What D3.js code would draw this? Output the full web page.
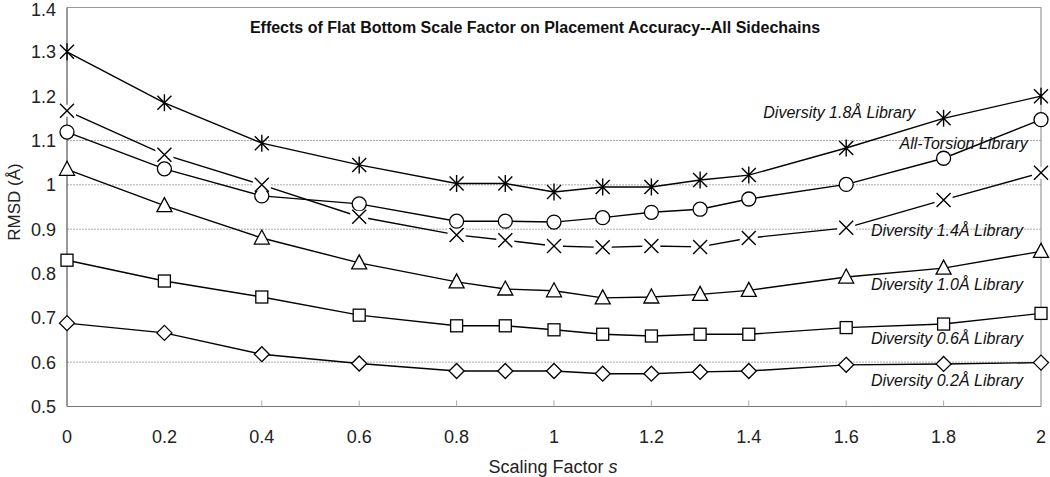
<!DOCTYPE html>
<html>
<head>
<meta charset="utf-8">
<script src="https://cdn.jsdelivr.net/npm/d3@7"></script>
<style>
  body { margin: 0; background: #fff; }
  svg text { font-family: "Liberation Sans", Arial, sans-serif; }
</style>
</head>
<body>
<div id="chart"></div>
<script>
// scaling factors along x
var scaleFactors = [0, 0.2, 0.4, 0.6, 0.8, 0.9, 1, 1.1, 1.2, 1.3, 1.4, 1.6, 1.8, 2];

// RMSD values per library
var div18 = [1.30, 1.185, 1.094, 1.045, 1.003, 1.003, 0.984, 0.995, 0.995, 1.011, 1.022, 1.083, 1.15, 1.20];
var allTorsion = [1.119, 1.036, 0.975, 0.957, 0.918, 0.918, 0.916, 0.926, 0.938, 0.945, 0.968, 1.001, 1.06, 1.147];
var div14 = [1.167, 1.068, 1.0, 0.928, 0.887, 0.875, 0.862, 0.859, 0.862, 0.86, 0.88, 0.903, 0.966, 1.027];
var div10 = [1.035, 0.953, 0.88, 0.824, 0.781, 0.765, 0.761, 0.745, 0.747, 0.753, 0.762, 0.792, 0.812, 0.85];
var div06 = [0.83, 0.783, 0.747, 0.706, 0.682, 0.682, 0.673, 0.663, 0.659, 0.663, 0.663, 0.678, 0.686, 0.71];
var div02 = [0.688, 0.666, 0.618, 0.597, 0.58, 0.58, 0.58, 0.574, 0.574, 0.578, 0.58, 0.594, 0.596, 0.599];

var seriesNames = ["Diversity 1.8Å Library", "All-Torsion Library", "Diversity 1.4Å Library",
                   "Diversity 1.0Å Library", "Diversity 0.6Å Library", "Diversity 0.2Å Library"];
var seriesValues = [div18, allTorsion, div14, div10, div06, div02];
var seriesMarkers = ["asterisk", "circle", "cross", "triangle", "square", "diamond"];

// where each label sits: [x value it ends at, y value of its centre]
var labelEnd = [1.742, 1.973, 1.963, 1.963, 1.963, 1.963];
var labelY = [1.164, 1.094, 0.898, 0.776, 0.654, 0.56];

var xTicks = [0, 0.2, 0.4, 0.6, 0.8, 1, 1.2, 1.4, 1.6, 1.8, 2];
var xTickMarks = [0.4, 0.6, 0.8, 1, 1.2, 1.4, 1.6, 1.8];
var yTicks = [0.5, 0.6, 0.7, 0.8, 0.9, 1, 1.1, 1.2, 1.3, 1.4];
var gridValues = [0.6, 0.9, 1.0, 1.1];

var W = 1050, H = 477,
    margin = {left: 67, right: 9, top: 7.5, bottom: 70.5};

var svg = d3.select("#chart").append("svg")
    .attr("width", W)
    .attr("height", H);

var x = d3.scaleLinear().domain([0, 2]).range([margin.left, W - margin.right]),
    y = d3.scaleLinear().domain([0.5, 1.4]).range([H - margin.bottom, margin.top]);

// grid lines
svg.append("g").selectAll("line")
    .data(gridValues)
  .enter().append("line")
    .attr("x1", x(0)).attr("x2", x(2))
    .attr("y1", function(d){ return y(d); })
    .attr("y2", function(d){ return y(d); })
    .attr("stroke", "#aaa")
    .attr("stroke-width", 1)
    .attr("stroke-dasharray", "2,1");

// plot frame: top and right
svg.append("path")
    .attr("d", "M" + x(0) + "," + y(1.4) + "H" + x(2) + "V" + y(0.5))
    .attr("fill", "none")
    .attr("stroke", "#999")
    .attr("stroke-width", 1.2);

// bottom axis
var xAxis = svg.append("g")
    .attr("transform", "translate(0," + y(0.5) + ")");
xAxis.append("line")
    .attr("x1", x(0)).attr("x2", x(2))
    .attr("stroke", "#777").attr("stroke-width", 1.2);
xAxis.selectAll(".tickmark")
    .data(xTickMarks)
  .enter().append("line")
    .attr("class", "tickmark")
    .attr("x1", function(d){ return x(d); })
    .attr("x2", function(d){ return x(d); })
    .attr("y1", 0).attr("y2", -6)
    .attr("stroke", "#aaa");
xAxis.selectAll("text")
    .data(xTicks)
  .enter().append("text")
    .attr("x", function(d){ return x(d); })
    .attr("y", 36)
    .attr("text-anchor", "middle")
    .attr("font-size", 18)
    .attr("fill", "#222")
    .text(function(d){ return d; });

// left axis
var yAxis = svg.append("g");
yAxis.append("line")
    .attr("x1", x(0)).attr("x2", x(0))
    .attr("y1", y(0.5)).attr("y2", y(1.4))
    .attr("stroke", "#555").attr("stroke-width", 1.2);
yAxis.selectAll("text")
    .data(yTicks)
  .enter().append("text")
    .attr("x", 56)
    .attr("y", function(d){ return Math.max(y(d), 10); })
    .attr("dy", "0.36em")
    .attr("text-anchor", "end")
    .attr("font-size", 18)
    .attr("fill", "#222")
    .text(function(d){ return d; });

// axis titles
svg.append("text")
    .attr("transform", "translate(20," + 202 + ") rotate(-90)")
    .attr("text-anchor", "middle")
    .attr("font-size", 17)
    .attr("fill", "#222")
    .text("RMSD (Å)");

var xt = svg.append("text")
    .attr("x", 553)
    .attr("y", 473)
    .attr("text-anchor", "middle")
    .attr("font-size", 18)
    .attr("fill", "#222");
xt.append("tspan").text("Scaling Factor ");
xt.append("tspan").attr("font-style", "italic").text("s");

// chart title
svg.append("text")
    .attr("x", 535)
    .attr("y", 33)
    .attr("text-anchor", "middle")
    .attr("font-size", 16)
    .attr("font-weight", "bold")
    .attr("fill", "#111")
    .text("Effects of Flat Bottom Scale Factor on Placement Accuracy--All Sidechains");

// series lines
var line = d3.line()
    .x(function(d){ return x(d[0]); })
    .y(function(d){ return y(d[1]); });

var series = seriesValues.map(function(vals, i){
    return {
        name: seriesNames[i],
        marker: seriesMarkers[i],
        points: scaleFactors.map(function(s, j){ return [s, vals[j]]; })
    };
});

svg.append("g").selectAll("path")
    .data(series)
  .enter().append("path")
    .attr("d", function(d){ return line(d.points); })
    .attr("fill", "none")
    .attr("stroke", "#000")
    .attr("stroke-width", 1.4);

// markers
function drawMarker(g, type){
    var s = 7;
    if(type === "circle"){
        g.append("circle").attr("r", 7).attr("fill", "#fff").attr("stroke", "#000").attr("stroke-width", 1.3);
    }else if(type === "square"){
        g.append("rect").attr("x", -6).attr("y", -6).attr("width", 12).attr("height", 12)
            .attr("fill", "#fff").attr("stroke", "#000").attr("stroke-width", 1.3);
    }else if(type === "triangle"){
        g.append("path").attr("d", "M0,-8L7.5,6L-7.5,6Z")
            .attr("fill", "#fff").attr("stroke", "#000").attr("stroke-width", 1.3);
    }else if(type === "diamond"){
        g.append("path").attr("d", "M0,-7.5L7.5,0L0,7.5L-7.5,0Z")
            .attr("fill", "#fff").attr("stroke", "#000").attr("stroke-width", 1.3);
    }else if(type === "cross"){
        g.append("rect").attr("x", -9).attr("y", -6).attr("width", 18).attr("height", 12).attr("fill", "#fff");
        g.append("path").attr("d", "M-" + s + ",-" + s + "L" + s + "," + s + "M" + s + ",-" + s + "L-" + s + "," + s)
            .attr("stroke", "#000").attr("stroke-width", 1.4);
    }else if(type === "asterisk"){
        g.append("path").attr("d", "M-" + s + ",-" + s + "L" + s + "," + s + "M" + s + ",-" + s + "L-" + s + "," + s + "M0,-8.5V8.5")
            .attr("stroke", "#000").attr("stroke-width", 1.4);
    }
}

series.forEach(function(sr){
    svg.append("g").selectAll("g")
        .data(sr.points)
      .enter().append("g")
        .attr("transform", function(d){ return "translate(" + x(d[0]) + "," + y(d[1]) + ")"; })
        .each(function(){ drawMarker(d3.select(this), sr.marker); });
});

// series labels
svg.append("g").selectAll("text")
    .data(series)
  .enter().append("text")
    .attr("x", function(d, i){ return x(labelEnd[i]); })
    .attr("y", function(d, i){ return y(labelY[i]); })
    .attr("dy", "0.36em")
    .attr("text-anchor", "end")
    .attr("font-size", 16)
    .attr("font-style", "italic")
    .attr("fill", "#111")
    .text(function(d){ return d.name; });
</script>
</body>
</html>
